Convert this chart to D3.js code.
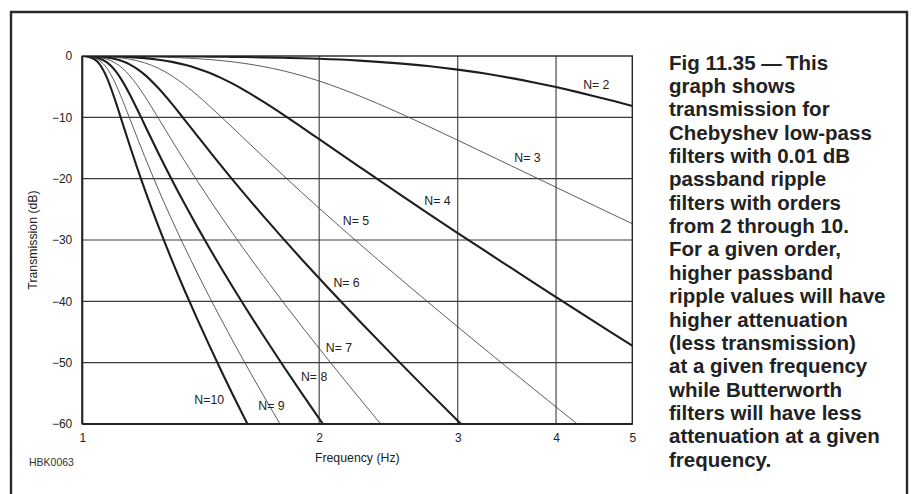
<!DOCTYPE html>
<html>
<head>
<meta charset="utf-8">
<script src="https://cdn.jsdelivr.net/npm/d3@7/dist/d3.min.js"></script>
<style>
  html, body { margin: 0; padding: 0; background: #fff; }
  svg { display: block; font-family: "Liberation Sans", Arial, Helvetica, sans-serif; }
</style>
</head>
<body>
<svg id="chart" width="912" height="494"></svg>
<script>
// ---------- data ----------
const freq = [1, 1.02, 1.05, 1.075, 1.1, 1.125, 1.15, 1.175, 1.2, 1.25, 1.3, 1.35, 1.4, 1.45, 1.5, 1.55, 1.6,
              1.7, 1.8, 1.9, 2, 2.25, 2.5, 2.75, 3, 3.25, 3.5, 3.75, 4, 4.25, 4.5, 4.75, 5];
const orders = [2, 3, 4, 5, 6, 7, 8, 9, 10];
const n2  = [0, -0.01, -0.01, -0.02, -0.02, -0.03, -0.03, -0.03, -0.04, -0.05, -0.06, -0.07, -0.08, -0.10, -0.12, -0.14, -0.16,
             -0.22, -0.29, -0.37, -0.46, -0.76, -1.16, -1.64, -2.22, -2.86, -3.57, -4.31, -5.07, -5.85, -6.63, -7.39, -8.15];
const n3  = [0, -0.01, -0.02, -0.03, -0.04, -0.05, -0.07, -0.09, -0.11, -0.16, -0.23, -0.32, -0.44, -0.58, -0.74, -0.94, -1.17,
             -1.73, -2.41, -3.20, -4.08, -6.51, -9.02, -11.44, -13.73, -15.86, -17.84, -19.68, -21.41, -23.02, -24.55, -25.99, -27.35];
const n4  = [0, -0.02, -0.04, -0.06, -0.09, -0.13, -0.19, -0.26, -0.35, -0.60, -0.96, -1.43, -2.02, -2.74, -3.57, -4.47, -5.44,
             -7.49, -9.56, -11.60, -13.57, -18.07, -22.07, -25.64, -28.86, -31.79, -34.48, -36.98, -39.30, -41.47, -43.51, -45.43, -47.25];
const n5  = [0, -0.02, -0.06, -0.12, -0.21, -0.34, -0.53, -0.78, -1.11, -2.02, -3.25, -4.74, -6.39, -8.13, -9.88, -11.60, -13.29,
             -16.48, -19.46, -22.24, -24.82, -30.61, -35.65, -40.13, -44.16, -47.83, -51.20, -54.32, -57.22, -59.94, -62.49, null, null];
const n6  = [0, -0.03, -0.11, -0.25, -0.49, -0.86, -1.40, -2.13, -3.03, -5.27, -7.81, -10.44, -13.01, -15.48, -17.84, -20.07, -22.20,
             -26.15, -29.78, -33.13, -36.24, -43.20, -49.26, -54.64, -59.47, -63.88, null, null, null, null, null, null, null];
const n7  = [0, -0.05, -0.21, -0.52, -1.10, -2.01, -3.27, -4.81, -6.52, -10.19, -13.78, -17.18, -20.36, -23.34, -26.13, -28.77, -31.27,
             -35.90, -40.14, -44.05, -47.68, -55.80, -62.87, null, null, null, null, null, null, null, null, null, null];
const n8  = [0, -0.07, -0.37, -1.05, -2.30, -4.13, -6.35, -8.76, -11.20, -15.89, -20.21, -24.19, -27.86, -31.28, -34.48, -37.50, -40.36,
             -45.66, -50.50, -54.97, -59.12, -68.40, null, null, null, null, null, null, null, null, null, null, null];
const n9  = [0, -0.10, -0.68, -2.01, -4.30, -7.22, -10.33, -13.40, -16.36, -21.82, -26.75, -31.24, -35.38, -39.24, -42.84, -46.24, -49.45,
             -55.41, -60.86, null, null, null, null, null, null, null, null, null, null, null, null, null, null];
const n10 = [0, -0.14, -1.19, -3.56, -7.08, -10.96, -14.75, -18.34, -21.69, -27.82, -33.31, -38.31, -42.91, -47.19, -51.20, -54.98, -58.54,
             -65.17, null, null, null, null, null, null, null, null, null, null, null, null, null, null, null];
const seriesValues = [n2, n3, n4, n5, n6, n7, n8, n9, n10];
const labelText = ["N= 2", "N= 3", "N= 4", "N= 5", "N= 6", "N= 7", "N= 8", "N= 9", "N=10"];
const labelFreq = [4.33, 3.54, 2.72, 2.143, 2.085, 2.039, 1.896, 1.674, 1.388];
const labelDb   = [-4.6, -16.6, -23.5, -26.8, -36.9, -47.5, -52.3, -56.95, -56.0];
const xTicks = [1, 2, 3, 4, 5];
const yTicks = [0, -10, -20, -30, -40, -50, -60];
const xTitle = "Frequency (Hz)";
const yTitle = "Transmission (dB)";
const figCode = "HBK0063";
const captionLines = [
  "Fig 11.35 \u2014\u2009This",
  "graph shows",
  "transmission for",
  "Chebyshev low-pass",
  "filters with 0.01 dB",
  "passband ripple",
  "filters with orders",
  "from 2 through 10.",
  "For a given order,",
  "higher passband",
  "ripple values will have",
  "higher attenuation",
  "(less transmission)",
  "at a given frequency",
  "while Butterworth",
  "filters will have less",
  "attenuation at a given",
  "frequency."
];

// ---------- layout ----------
const svg = d3.select("#chart");
const W = 912, H = 494;
const plot = { left: 82.3, right: 632.3, top: 56, bottom: 424 };

svg.append("rect").attr("x", 0).attr("y", 0).attr("width", W).attr("height", H).attr("fill", "#fff");

// outer frame (open at bottom)
svg.append("path")
  .attr("d", `M11,${H + 5} V12 H907 V${H + 5}`)
  .attr("fill", "none").attr("stroke", "#2a2a2a").attr("stroke-width", 2.4);

const x = d3.scaleLog().domain([1, 5]).range([plot.left, plot.right]);
const y = d3.scaleLinear().domain([0, -60]).range([plot.top, plot.bottom]);

// grid
const grid = svg.append("g");
grid.selectAll("line.h").data(yTicks.filter(v => v !== 0 && v !== -60)).join("line")
  .attr("x1", plot.left).attr("x2", plot.right)
  .attr("y1", d => y(d)).attr("y2", d => y(d))
  .attr("stroke", "#3a3a3a").attr("stroke-width", 1.1);
grid.selectAll("line.v").data(xTicks.filter(v => v !== 1 && v !== 5)).join("line")
  .attr("y1", plot.top).attr("y2", plot.bottom)
  .attr("x1", d => x(d)).attr("x2", d => x(d))
  .attr("stroke", "#3a3a3a").attr("stroke-width", 1.1);

// clip
svg.append("clipPath").attr("id", "clip").append("rect")
  .attr("x", plot.left).attr("y", plot.top)
  .attr("width", plot.right - plot.left).attr("height", plot.bottom - plot.top);

// curves
const line = d3.line()
  .defined(d => d.v !== null)
  .x(d => x(d.f))
  .y(d => y(d.v))
  .curve(d3.curveMonotoneX);

const curves = svg.append("g").attr("clip-path", "url(#clip)");
orders.forEach((n, i) => {
  const pts = freq.map((f, j) => ({ f, v: seriesValues[i][j] }));
  const bold = n % 2 === 0;
  curves.append("path")
    .attr("d", line(pts))
    .attr("fill", "none")
    .attr("stroke", bold ? "#1e1e1e" : "#4a4a4a")
    .attr("stroke-width", bold ? 2.1 : 0.9)
    .attr("stroke-linejoin", "round");
});

// plot frame
svg.append("rect")
  .attr("x", plot.left).attr("y", plot.top)
  .attr("width", plot.right - plot.left).attr("height", plot.bottom - plot.top)
  .attr("fill", "none").attr("stroke", "#222").attr("stroke-width", 1.4);
svg.append("line").attr("x1", plot.left).attr("x2", plot.right)
  .attr("y1", plot.bottom).attr("y2", plot.bottom)
  .attr("stroke", "#222").attr("stroke-width", 2);
svg.append("line").attr("x1", plot.left).attr("x2", plot.left)
  .attr("y1", plot.top).attr("y2", plot.bottom)
  .attr("stroke", "#222").attr("stroke-width", 2);

// axes
const fmtY = d => d === 0 ? "0" : "\u2212" + Math.abs(d);
const yAxis = d3.axisLeft(y).tickValues(yTicks).tickSize(0).tickPadding(10).tickFormat(fmtY);
const gy = svg.append("g").attr("transform", `translate(${plot.left},0)`).call(yAxis);
gy.select(".domain").remove();
gy.selectAll("text").attr("font-size", 12).attr("fill", "#222")
  .attr("font-family", "'Liberation Sans', Arial, sans-serif");

const xAxis = d3.axisBottom(x).tickValues(xTicks).tickSize(0).tickPadding(9).tickFormat(d3.format("d"));
const gx = svg.append("g").attr("transform", `translate(0,${plot.bottom})`).call(xAxis);
gx.select(".domain").remove();
gx.selectAll("text").attr("font-size", 12).attr("fill", "#222")
  .attr("font-family", "'Liberation Sans', Arial, sans-serif");

// axis titles
svg.append("text")
  .attr("x", (plot.left + plot.right) / 2).attr("y", 462)
  .attr("text-anchor", "middle")
  .attr("font-size", 12.3).attr("fill", "#222")
  .text(xTitle);
svg.append("text")
  .attr("transform", `translate(37,${(plot.top + plot.bottom) / 2}) rotate(-90)`)
  .attr("text-anchor", "middle")
  .attr("font-size", 12.3).attr("fill", "#222")
  .text(yTitle);
svg.append("text")
  .attr("x", 29).attr("y", 465.5)
  .attr("font-size", 10.5).attr("fill", "#333")
  .text(figCode);

// curve labels
svg.append("g").selectAll("text").data(labelText).join("text")
  .attr("x", (d, i) => x(labelFreq[i]))
  .attr("y", (d, i) => y(labelDb[i]))
  .attr("dy", "0.36em")
  .attr("font-size", 12.3).attr("fill", "#222")
  .text(d => d);

// caption
svg.append("g").selectAll("text").data(captionLines).join("text")
  .attr("x", 669)
  .attr("y", (d, i) => 69.5 + i * 23.37)
  .attr("font-size", 20.5).attr("font-weight", "bold").attr("fill", "#222")
  .text(d => d);
</script>
</body>
</html>
